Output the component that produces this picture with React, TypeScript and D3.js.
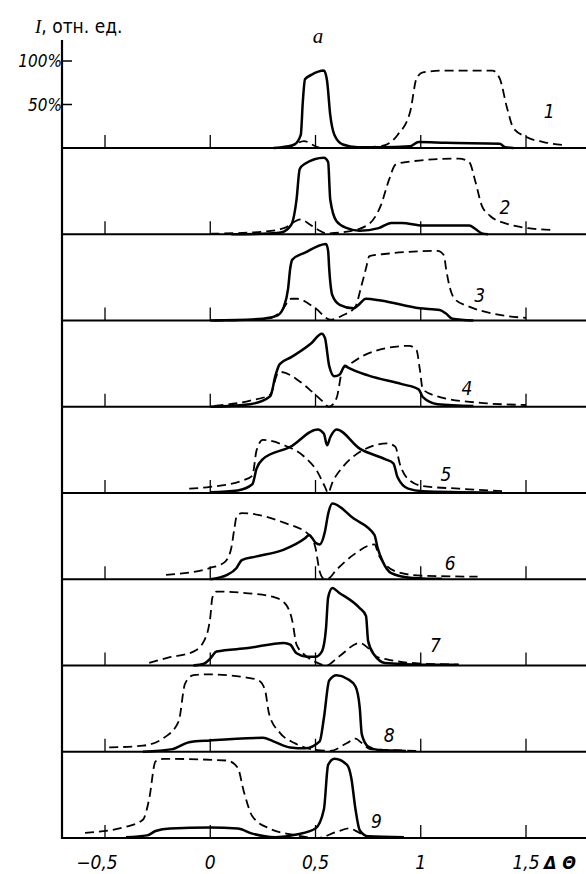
import * as d3 from 'd3';

// intensity profiles, [ΔΘ, % of max], one pair per panel
const solid1 = [[0.30,0],[0.33,0.5],[0.40,4],[0.43,15],[0.44,54],[0.45,79],[0.48,84],[0.54,89],[0.555,77],[0.57,38],[0.59,15],[0.63,4],[0.70,1],[0.81,1],[0.95,2],[0.99,7],[1.12,6],[1.375,5],[1.40,1],[1.44,0]];
const dashed1 = [[0.36,0],[0.40,4],[0.445,8],[0.5,2],[0.53,0],[0.65,0.5],[0.70,1],[0.81,2],[0.89,15],[0.95,42],[0.98,80],[1.01,87],[1.12,89],[1.34,89],[1.375,80],[1.41,46],[1.44,23],[1.5,13],[1.6,6],[1.69,3]];

const solid2 = [[0.10,0],[0.25,0.5],[0.335,2],[0.385,11],[0.41,40],[0.425,75],[0.45,81],[0.54,88],[0.56,83],[0.57,40],[0.60,15],[0.65,7],[0.71,4],[0.80,7],[0.86,13],[0.91,13],[1.01,10],[1.23,10],[1.26,6],[1.29,1],[1.32,0]];
const dashed2 = [[0,0.5],[0.25,3],[0.35,7],[0.43,17],[0.475,11],[0.52,4],[0.55,1],[0.65,3],[0.75,11],[0.81,33],[0.85,63],[0.88,80],[0.93,83],[1.18,87],[1.23,83],[1.26,60],[1.29,33],[1.33,21],[1.41,12],[1.51,7],[1.62,5]];

const solid3 = [[0,0],[0.25,2],[0.32,6],[0.35,16],[0.37,37],[0.38,60],[0.39,70],[0.45,78],[0.55,88],[0.56,80],[0.565,60],[0.58,29],[0.615,18],[0.68,14],[0.70,17],[0.74,25],[0.81,23],[0.995,14],[1.09,12],[1.12,8],[1.15,2],[1.25,0]];
const dashed3 = [[0.02,0],[0.25,1],[0.335,10],[0.385,25],[0.41,25],[0.50,14],[0.57,1],[0.63,6],[0.69,16],[0.715,37],[0.74,60],[0.756,74],[0.85,77],[1.08,80],[1.11,75],[1.12,60],[1.135,41],[1.16,25],[1.23,16],[1.34,8],[1.5,3]];

const solid4 = [[0,0],[0.19,3],[0.285,12],[0.31,36],[0.33,49],[0.385,57],[0.48,73],[0.53,84],[0.545,79],[0.565,47],[0.59,35],[0.615,37],[0.64,47],[0.655,45],[0.75,36],[0.91,26],[0.99,20],[1.01,11],[1.08,3],[1.25,1]];
const dashed4 = [[0.02,1],[0.19,7],[0.285,14],[0.32,38],[0.335,40],[0.42,30],[0.48,18],[0.53,7],[0.565,0],[0.6,10],[0.63,44],[0.65,47],[0.73,59],[0.85,68],[0.945,70],[0.98,65],[0.995,44],[1.01,20],[1.08,12],[1.26,5],[1.5,2]];

const solid5 = [[0,1],[0.13,3],[0.2,10],[0.22,28],[0.25,39],[0.38,53],[0.51,73],[0.54,68],[0.555,55],[0.57,64],[0.60,73],[0.71,51],[0.83,39],[0.87,34],[0.89,18],[0.94,5],[1.01,2],[1.18,1],[1.37,0.5]];
const dashed5 = [[-0.1,5],[0,7],[0.15,14],[0.2,20],[0.22,49],[0.25,61],[0.35,55],[0.45,41],[0.51,24],[0.545,7],[0.56,0],[0.58,12],[0.63,30],[0.71,47],[0.84,57],[0.88,53],[0.90,34],[0.94,16],[1.01,8],[1.18,5],[1.39,2]];

const solid6 = [[0,0],[0.08,5],[0.125,13],[0.15,22],[0.215,26],[0.35,34],[0.45,47],[0.47,51],[0.50,42],[0.52,40],[0.545,55],[0.56,75],[0.58,87],[0.68,70],[0.78,51],[0.795,36],[0.82,20],[0.86,7],[0.94,2],[1.01,1],[1.1,0.5]];
const dashed6 = [[-0.21,5],[0,13],[0.07,20],[0.10,36],[0.115,59],[0.125,72],[0.15,76],[0.35,65],[0.47,51],[0.50,36],[0.52,9],[0.54,1],[0.56,1],[0.6,11],[0.68,28],[0.78,40],[0.80,28],[0.84,15],[0.91,7],[1.01,4],[1.27,3]];

const solid7 = [[-0.08,0],[-0.03,2],[0,8],[0.03,16],[0.18,20],[0.35,26],[0.38,24],[0.41,14],[0.46,10],[0.50,10],[0.53,16],[0.55,43],[0.56,78],[0.58,89],[0.61,84],[0.71,66],[0.74,57],[0.75,28],[0.78,12],[0.83,3],[1.01,1],[1.18,1]];
const dashed7 = [[-0.29,3],[-0.2,9],[-0.08,16],[-0.03,28],[0,55],[0.01,78],[0.03,85],[0.18,83],[0.31,78],[0.36,70],[0.39,51],[0.41,24],[0.46,10],[0.51,3],[0.55,0],[0.61,10],[0.71,26],[0.75,20],[0.79,10],[0.84,7],[0.95,3],[1.18,1]];

const solid8 = [[-0.32,0],[-0.18,3],[-0.1,11],[0,13],[0.25,16],[0.30,12],[0.38,5],[0.45,4],[0.52,12],[0.54,39],[0.565,82],[0.60,88],[0.65,84],[0.69,75],[0.71,51],[0.72,20],[0.75,6],[0.80,2],[0.93,1]];
const dashed8 = [[-0.48,5],[-0.32,7],[-0.22,16],[-0.15,35],[-0.12,78],[-0.08,88],[-0.02,89],[0.18,85],[0.23,82],[0.26,71],[0.28,43],[0.33,22],[0.40,10],[0.48,3],[0.57,1],[0.65,10],[0.69,15],[0.72,10],[0.76,3],[0.85,2],[0.99,1]];

const solid9 = [[-0.4,1],[-0.30,3],[-0.26,8],[-0.19,11],[0,12],[0.13,11],[0.2,5],[0.31,1],[0.41,4],[0.50,11],[0.54,33],[0.56,84],[0.59,91],[0.65,84],[0.67,69],[0.69,33],[0.71,9],[0.75,2],[0.92,1]];
const dashed9 = [[-0.595,6],[-0.40,13],[-0.32,21],[-0.29,45],[-0.26,88],[-0.22,91],[0.08,89],[0.13,81],[0.16,53],[0.20,25],[0.28,11],[0.41,3],[0.51,0],[0.60,7],[0.66,11],[0.70,7],[0.74,1]];

const curveNames = ['1', '2', '3', '4', '5', '6', '7', '8', '9'];
const nameAt = [[1.61,42],[1.40,31],[1.28,29],[1.22,22],[1.12,22],[1.14,19],[1.07,24],[0.85,19],[0.79,19]];

const xTicks = [-0.5, 0, 0.5, 1, 1.5];
const xTickLabels = ['−0,5', '0', '0,5', '1', '1,5'];
const yTicks = [100, 50];
const yTickLabels = ['100%', '50%'];

const solids = [solid1, solid2, solid3, solid4, solid5, solid6, solid7, solid8, solid9];
const dasheds = [dashed1, dashed2, dashed3, dashed4, dashed5, dashed6, dashed7, dashed8, dashed9];

const W = 586;
const H = 874;
const axisX = 62;
const panelH = 87;
const numFont = "'Liberation Sans Narrow', 'DejaVu Sans Condensed', 'DejaVu Sans', sans-serif";

export default function App() {
  const x = d3.scaleLinear().domain([-0.5, 1.5]).range([105, 526]);
  // baseline of each panel
  const base = d3.scaleLinear().domain([0, 8]).range([148, 838]);
  const h = d3.scaleLinear().domain([0, 100]).range([0, panelH]);

  const line = (i: number) =>
    d3.line<number[]>()
      .x((d) => x(d[0]))
      .y((d) => base(i) - h(d[1]))
      .curve(d3.curveMonotoneX);

  return (
    <div style={{ position: 'absolute', left: 0, top: 0 }}>
      <svg width={W} height={H} style={{ display: 'block', background: '#fff' }}>
        {/* vertical axis */}
        <line x1={axisX} x2={axisX} y1={40} y2={base(8) + 1} stroke="#000" strokeWidth={2.2} />
        {yTicks.map((t, k) => (
          <g key={t}>
            <line x1={axisX} x2={axisX + 10} y1={base(0) - h(t)} y2={base(0) - h(t)} stroke="#000" strokeWidth={1.5} />
            <text x={axisX} y={base(0) - h(t) + 6} textAnchor="end" fontFamily={numFont}
              fontStyle="italic" fontSize={17}>{yTickLabels[k]}</text>
          </g>
        ))}
        <text x={35} y={33} fontSize={19}>
          <tspan fontFamily="'Liberation Serif', serif" fontStyle="italic">I</tspan>
          <tspan fontFamily={numFont}>, отн. ед.</tspan>
        </text>
        <text x={318} y={43} textAnchor="middle" fontFamily="'Liberation Serif', serif"
          fontStyle="italic" fontSize={21}>а</text>

        {solids.map((s, i) => (
          <g key={i}>
            <line x1={axisX} x2={W} y1={base(i)} y2={base(i)} stroke="#000" strokeWidth={2} />
            {xTicks.map((t) => (
              <line key={t} x1={x(t)} x2={x(t)} y1={base(i)} y2={base(i) - 13} stroke="#000" strokeWidth={1.3} />
            ))}
            <path d={line(i)(dasheds[i] as any) || ''} fill="none" stroke="#000"
              strokeWidth={1.8} strokeDasharray="9,5" />
            <path d={line(i)(s as any) || ''} fill="none" stroke="#000" strokeWidth={2.5}
              strokeLinejoin="round" />
            <text x={x(nameAt[i][0])} y={base(i) - h(nameAt[i][1]) + 7} textAnchor="middle"
              fontFamily={numFont} fontStyle="italic" fontSize={19}>{curveNames[i]}</text>
          </g>
        ))}

        {xTicks.map((t, k) => (
          <text key={t} x={x(t) - (t < 0 ? 8 : 0)} y={869} textAnchor="middle" fontFamily={numFont}
            fontStyle="italic" fontSize={19}>{xTickLabels[k]}</text>
        ))}
        <text x={544} y={869} fontFamily={numFont} fontStyle="italic" fontWeight="bold" fontSize={18}>Δ Θ</text>
      </svg>
    </div>
  );
}
